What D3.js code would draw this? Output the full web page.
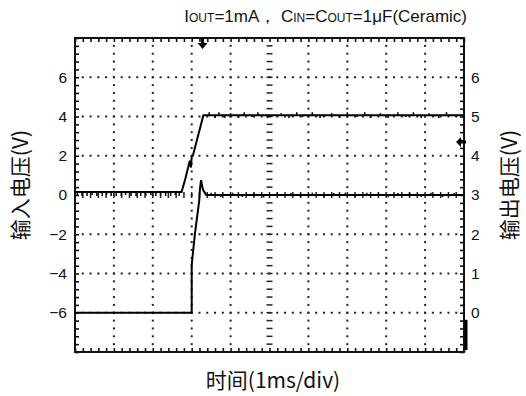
<!DOCTYPE html>
<html>
<head>
<meta charset="utf-8">
<script src="https://cdn.jsdelivr.net/npm/d3@7"></script>
<style>
  body { margin: 0; background: #fff; }
  svg text { font-family: "Liberation Sans", Arial, sans-serif; fill: #111; }
  .cjk { font-family: "Noto Sans CJK SC", "Liberation Sans", sans-serif; }
</style>
</head>
<body>
<svg id="chart" width="526" height="396"></svg>
<script>
  // time in ms (1 ms/div, 10 div)
  var timeDomain = [0, 10];
  var leftTicks = [-6, -4, -2, 0, 2, 4, 6];
  var rightTicks = [0, 1, 2, 3, 4, 5, 6];

  // input voltage, left axis (V)
  var inputTime  = [0, 2.74, 2.84, 2.95, 2.98, 3.0, 3.03, 3.30, 10];
  var inputValue = [0.15, 0.15, 0.85, 1.75, 1.4, 1.95, 2.0, 4.07, 4.07];

  // output voltage, right axis (V)
  var outputTime  = [0, 3.0, 3.0, 3.04, 3.085, 3.14, 3.195, 3.21, 3.24, 3.29, 3.375, 10];
  var outputValue = [0.0, 0.0, 1.22, 1.6, 2.03, 2.45, 2.87, 3.13, 3.38, 3.13, 3.0, 3.0];

  // noise spikes: time (ms), offset (V on the trace's axis)
  var inputLowSpikeTime = [0.06, 0.18, 0.31, 0.44, 0.56, 0.7, 0.81, 0.93, 1.06, 1.19, 1.3, 1.44, 1.57, 1.69, 1.82, 1.95, 2.08, 2.2, 2.33, 2.46, 2.58, 2.68];
  var inputLowSpikeSize = [-0.2, -0.2, -0.2, -0.15, -0.2, -0.2, -0.15, -0.2, -0.2, -0.2, -0.15, -0.2, -0.2, -0.2, -0.2, -0.15, -0.2, -0.2, -0.2, -0.2, -0.15, -0.2];
  var inputHighSpikeTime = [3.45, 3.6, 3.7, 3.85, 4.0, 4.2, 4.35, 4.55, 4.7, 4.95, 5.3, 5.5, 5.7, 5.85, 6.1, 6.3, 6.6, 6.8, 7.0, 7.25, 7.45, 7.6, 7.85, 8.05, 8.3, 8.5, 8.7, 8.9, 9.1, 9.35, 9.55, 9.8];
  var inputHighSpikeSize = [0.15, -0.15, 0.15, -0.15, 0.1, -0.15, 0.15, -0.1, 0.15, -0.15, 0.1, -0.15, 0.15, -0.1, 0.15, -0.15, 0.1, -0.15, 0.15, -0.1, 0.15, -0.15, 0.1, -0.15, 0.15, -0.1, 0.15, -0.15, 0.1, -0.15, 0.15, -0.1];
  var outputHighSpikeTime = [3.5, 3.75, 4.05, 4.3, 4.6, 4.85, 5.2, 5.55, 5.8, 6.1, 6.4, 6.65, 6.95, 7.2, 7.5, 7.8, 8.05, 8.3, 8.6, 8.9, 9.15, 9.45, 9.75];
  var outputHighSpikeSize = [0.06, -0.05, 0.06, -0.05, 0.05, -0.06, 0.06, 0.05, -0.05, 0.06, -0.05, 0.05, 0.06, -0.05, 0.06, 0.05, -0.06, 0.05, 0.06, -0.05, 0.06, -0.05, 0.05];

  // trigger / level markers
  var triggerTime = 3.28;
  var levelMarkRight = 4.35;
  var groundMarkRight = [-0.18, -0.95];

  var svg = d3.select('#chart'),
      margin = {top: 38, right: 62, bottom: 44, left: 75},
      width = +svg.attr('width') - margin.left - margin.right,
      height = +svg.attr('height') - margin.top - margin.bottom,
      g = svg.append('g').attr('transform', 'translate(' + margin.left + ',' + margin.top + ')');

  var x = d3.scaleLinear().domain(timeDomain).range([0, width]);
  var yLeft = d3.scaleLinear().domain([-8, 8]).range([height, 0]);
  var yRight = d3.scaleLinear().domain([-1, 7]).range([height, 0]);

  // minor positions: 5 per division
  var minorX = d3.range(0, 10.001, 0.2);
  var minorY = d3.range(-8, 8.001, 0.4);

  // dotted grid
  var grid = g.append('g').attr('class', 'grid');
  d3.range(1, 10).filter(function (d) { return d !== 5; }).forEach(function (t) {
    grid.selectAll(null)
        .data(minorY.slice(1, -1))
        .enter().append('rect')
        .attr('x', x(t) - 1).attr('y', function (d) { return yLeft(d) - 1; })
        .attr('width', 2).attr('height', 2).attr('fill', '#222');
  });
  leftTicks.filter(function (d) { return d !== 0; }).forEach(function (v) {
    grid.selectAll(null)
        .data(minorX.slice(1, -1))
        .enter().append('rect')
        .attr('x', function (d) { return x(d) - 1; }).attr('y', yLeft(v) - 1)
        .attr('width', 2).attr('height', 2).attr('fill', '#222');
  });
  // centre cross with dashes
  grid.selectAll(null)
      .data(minorY.slice(1, -1))
      .enter().append('line')
      .attr('x1', x(5) - 3).attr('x2', x(5) + 3)
      .attr('y1', function (d) { return yLeft(d); })
      .attr('y2', function (d) { return yLeft(d); })
      .attr('stroke', '#222').attr('stroke-width', 1.5);
  grid.selectAll(null)
      .data(minorX.slice(1, -1))
      .enter().append('line')
      .attr('y1', yLeft(0) - 3).attr('y2', yLeft(0) + 3)
      .attr('x1', function (d) { return x(d); })
      .attr('x2', function (d) { return x(d); })
      .attr('stroke', '#222').attr('stroke-width', 1.5);

  // inward minor ticks on frame
  function minorAxis(axis, vals) {
    return axis.tickValues(vals).tickSizeInner(-4).tickSizeOuter(0).tickFormat('');
  }
  g.append('g').attr('class', 'frame-ticks')
      .call(minorAxis(d3.axisLeft(yLeft), minorY));
  g.append('g').attr('class', 'frame-ticks')
      .attr('transform', 'translate(' + width + ',0)')
      .call(minorAxis(d3.axisRight(yLeft), minorY));
  g.append('g').attr('class', 'frame-ticks')
      .call(minorAxis(d3.axisTop(x), minorX));
  g.append('g').attr('class', 'frame-ticks')
      .attr('transform', 'translate(0,' + height + ')')
      .call(minorAxis(d3.axisBottom(x), minorX));
  g.selectAll('.frame-ticks .domain').remove();
  g.selectAll('.frame-ticks line').attr('stroke', '#111').attr('stroke-width', 1.6);

  g.append('rect')
      .attr('width', width).attr('height', height)
      .attr('fill', 'none').attr('stroke', '#111').attr('stroke-width', 2);

  // labels
  var leftAxis = g.append('g')
      .call(d3.axisLeft(yLeft).tickValues(leftTicks).tickSize(0).tickPadding(8));
  var rightAxis = g.append('g')
      .attr('transform', 'translate(' + width + ',0)')
      .call(d3.axisRight(yRight).tickValues(rightTicks).tickSize(0).tickPadding(7));
  [leftAxis, rightAxis].forEach(function (a) {
    a.select('.domain').remove();
    a.selectAll('text').style('font-size', '15.5px').attr('fill', '#111')
        .style('font-family', '"Liberation Sans", Arial, sans-serif');
  });

  // traces
  var inputData = inputTime.map(function (t, i) { return {t: t, v: inputValue[i]}; });
  var outputData = outputTime.map(function (t, i) { return {t: t, v: outputValue[i]}; });

  g.append('path')
      .datum(inputData)
      .attr('fill', 'none').attr('stroke', '#000').attr('stroke-width', 2)
      .attr('d', d3.line().x(function (d) { return x(d.t); }).y(function (d) { return yLeft(d.v); }));
  g.append('path')
      .datum(outputData)
      .attr('fill', 'none').attr('stroke', '#000').attr('stroke-width', 2)
      .attr('d', d3.line().x(function (d) { return x(d.t); }).y(function (d) { return yRight(d.v); }));

  // noise spikes on the flat parts
  function spikes(times, sizes, base, scale) {
    g.append('g').selectAll('line')
        .data(times)
        .enter().append('line')
        .attr('x1', function (d) { return x(d); })
        .attr('x2', function (d) { return x(d); })
        .attr('y1', scale(base))
        .attr('y2', function (d, i) { return scale(base + sizes[i]); })
        .attr('stroke', '#000').attr('stroke-width', 1.5);
  }
  spikes(inputLowSpikeTime, inputLowSpikeSize, inputValue[0], yLeft);
  spikes(inputHighSpikeTime, inputHighSpikeSize, inputValue[inputValue.length - 1], yLeft);
  spikes(outputHighSpikeTime, outputHighSpikeSize, outputValue[outputValue.length - 1], yRight);

  // trigger arrow (top)
  var tx = x(triggerTime);
  g.append('path')
      .attr('d', 'M' + (tx - 1.5) + ',0V5H' + (tx - 5) + 'L' + tx + ',11L' + (tx + 5) + ',5H' + (tx + 1.5) + 'V0Z')
      .attr('fill', '#000');
  // level arrow (right)
  var ly = yRight(levelMarkRight);
  g.append('path')
      .attr('d', 'M' + (width + 2) + ',' + (ly - 1.5) + 'H' + (width - 3) + 'V' + (ly - 5) +
             'L' + (width - 8) + ',' + ly + 'L' + (width - 3) + ',' + (ly + 5) + 'V' + (ly + 1.5) + 'H' + (width + 2) + 'Z')
      .attr('fill', '#000');
  // ground mark (right, bottom)
  g.append('line')
      .attr('x1', width + 2).attr('x2', width + 2)
      .attr('y1', yRight(groundMarkRight[0])).attr('y2', yRight(groundMarkRight[1]))
      .attr('stroke', '#000').attr('stroke-width', 3);

  // axis titles
  svg.append('text')
      .attr('class', 'cjk')
      .attr('transform', 'translate(28,185) rotate(-90)')
      .attr('text-anchor', 'middle')
      .style('font-size', '21px')
      .text('输入电压(V)');
  svg.append('text')
      .attr('class', 'cjk')
      .attr('transform', 'translate(517,185) rotate(-90)')
      .attr('text-anchor', 'middle')
      .style('font-size', '21px')
      .text('输出电压(V)');
  svg.append('text')
      .attr('class', 'cjk')
      .attr('x', 273).attr('y', 388)
      .attr('text-anchor', 'middle')
      .style('font-size', '21px')
      .text('时间(1ms/div)');

  // condition note
  var note = svg.append('text')
      .attr('x', 467).attr('y', 22)
      .attr('text-anchor', 'end')
      .style('font-size', '17px');
  note.append('tspan').text('I');
  note.append('tspan').style('font-size', '12px').text('OUT');
  note.append('tspan').text('=1mA，  C');
  note.append('tspan').style('font-size', '12px').text('IN');
  note.append('tspan').text('=C');
  note.append('tspan').style('font-size', '12px').text('OUT');
  note.append('tspan').text('=1μF(Ceramic)');
</script>
</body>
</html>
